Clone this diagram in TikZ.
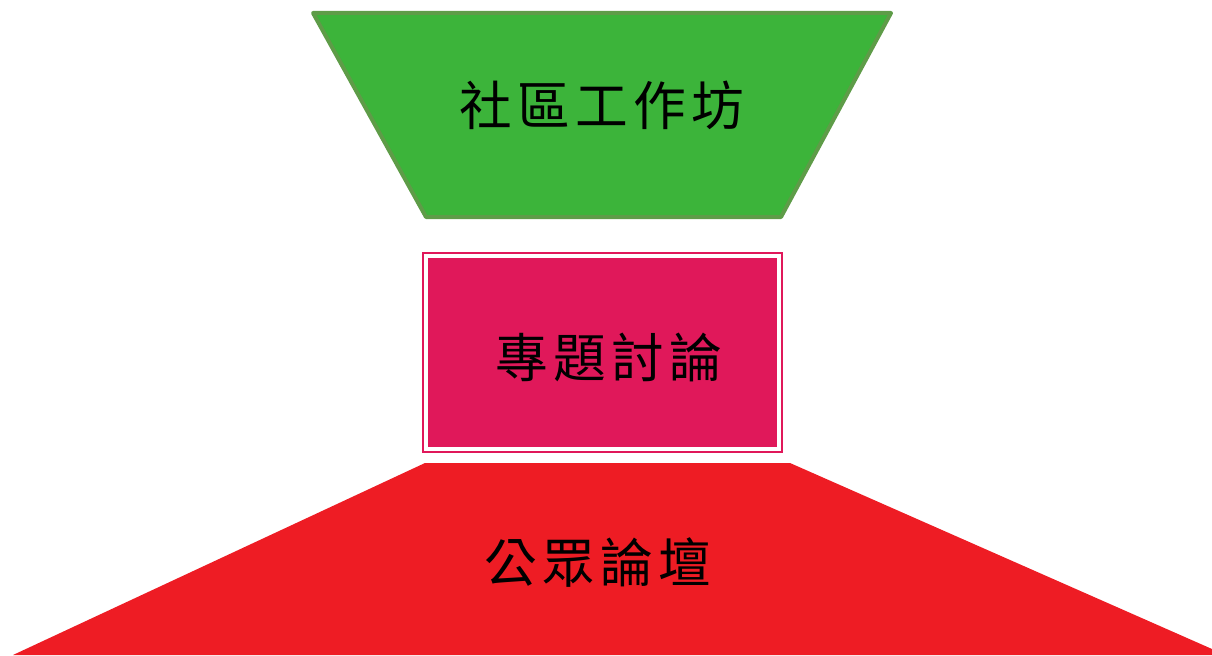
\documentclass[tikz,border=0pt]{standalone}
\usepackage{fontspec}
\newfontfamily\cjk[LetterSpace=10]{Noto Sans CJK TC}
\usepackage{xcolor}
\definecolor{grnfill}{HTML}{3CB43A}
\definecolor{grnedge}{HTML}{5E9C48}
\definecolor{pnkfill}{HTML}{E0185A}
\definecolor{redfill}{HTML}{EE1C24}
\tikzset{lbl/.style={font=\cjk\fontsize{30pt}{34pt}\selectfont, text=black, inner sep=0pt}}

\begin{document}
\begin{tikzpicture}[x=0.02cm, y=-0.02cm, line width=0.3mm]
    \useasboundingbox (0,0) rectangle (1212,655);
    % top
    \filldraw[fill=grnfill, draw=grnedge, line width=0.08cm, line join=round]
      (313,13) -- (891,13) -- (781,217) -- (426,217) -- cycle;
    % middle
    \draw[pnkfill, line width=0.05cm] (423,253) rectangle (782,452);
    \fill[pnkfill] (428,258) rectangle (777,447);
    % bottom
    \fill[redfill] (425,463) -- (790,463) -- (1212,649) -- (1212,655) -- (13,655) -- cycle;

    \node[lbl](T1) at (602,105) {社區工作坊};
    \node[lbl](T2) at (609,357) {專題討論};
    \node[lbl](T3) at (598,563) {公眾論壇};
  \end{tikzpicture}
\end{document}
